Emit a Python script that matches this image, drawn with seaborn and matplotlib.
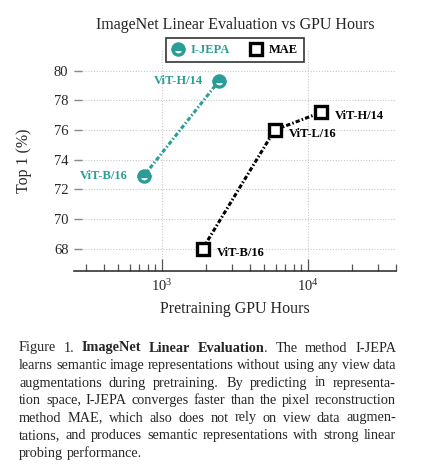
import numpy as np
import pandas as pd
import matplotlib
matplotlib.use("Agg")
import matplotlib.pyplot as plt
from matplotlib.lines import Line2D
import seaborn as sns

# values
ijepa_models = ["ViT-B/16", "ViT-H/14"]
ijepa_hours = [750, 2450]
ijepa_top1 = [72.9, 79.3]

mae_models = ["ViT-B/16", "ViT-L/16", "ViT-H/14"]
mae_hours = [1900, 5900, 12300]
mae_top1 = [68.0, 76.0, 77.2]

y_ticks = [68, 70, 72, 74, 76, 78, 80]

caption_lines = [
    [("Figure", "normal"), ("1.", "normal"), ("ImageNet", "bold"), ("Linear", "bold"),
     ("Evaluation", "bold", "."), ("The", "normal"), ("method", "normal"), ("I-JEPA", "normal")],
    "learns semantic image representations without using any view data",
    "augmentations during pretraining.  By predicting in representa-",
    "tion space, I-JEPA converges faster than the pixel reconstruction",
    "method MAE, which also does not rely on view data augmen-",
    "tations, and produces semantic representations with strong linear",
    "probing performance.",
]

TEAL = "#2a9d99"
W, H = 423, 475

sns.set_style("white")
plt.rcParams["font.family"] = ["Liberation Serif", "DejaVu Serif"]
plt.rcParams["mathtext.fontset"] = "custom"
plt.rcParams["mathtext.rm"] = "Liberation Serif"
plt.rcParams["mathtext.it"] = "Liberation Serif:italic"

fig = plt.figure(figsize=(W / 100, H / 100), dpi=100)
ax = fig.add_axes([74 / W, 1 - 271 / H, 322 / W, 221 / H])

ijepa = pd.DataFrame({"model": ijepa_models, "hours": ijepa_hours, "top1": ijepa_top1})
mae = pd.DataFrame({"model": mae_models, "hours": mae_hours, "top1": mae_top1})

dash = (0, (1.4, 0.7, 0.5, 0.7))
sns.lineplot(data=ijepa, x="hours", y="top1", ax=ax, sort=False, color=TEAL,
             lw=2.2, ls=dash, marker="o", markersize=8, mew=2.4, mec=TEAL,
             mfc=TEAL, fillstyle="top", markerfacecoloralt="white", zorder=4)
sns.lineplot(data=mae, x="hours", y="top1", ax=ax, sort=False, color="black",
             lw=2.2, ls=dash, marker="s", markersize=8.5, mew=2.4, mec="black",
             mfc="white", zorder=4)

for _, r in ijepa.iterrows():
    ax.annotate(r["model"], (r["hours"], r["top1"]), xytext=(-16, 0),
                textcoords="offset pixels", ha="right", va="center",
                fontsize=9, fontweight="bold", color=TEAL)
for _, r in mae.iterrows():
    ax.annotate(r["model"], (r["hours"], r["top1"]), xytext=(14, -4),
                textcoords="offset pixels", ha="left", va="center",
                fontsize=9, fontweight="bold", color="black")

ax.set_xscale("log")
ax.set_xlim(250, 40000)
ax.set_ylim(66.5, 81.4)
ax.set_yticks(y_ticks)
ax.set_xticks([1e3, 1e4])
ax.set_xticklabels([r"$10^3$", r"$10^4$"])

ax.grid(True, which="major", color="#c8c8c8", ls=(0, (1, 1.5)), lw=0.8)
ax.set_axisbelow(True)
for s in ["top", "right", "left"]:
    ax.spines[s].set_visible(False)
ax.spines["bottom"].set_color("#333333")
ax.spines["bottom"].set_linewidth(1.2)

ax.tick_params(axis="y", direction="in", length=6, width=1, color="#888888",
               labelsize=10.5, pad=4, left=True)
ax.tick_params(axis="x", which="major", direction="in", length=9, width=0.9,
               color="#555555", labelsize=10.5, pad=5, bottom=True)
ax.tick_params(axis="x", which="minor", direction="in", length=5, width=0.9,
               color="#555555", bottom=True)

ax.set_xlabel("Pretraining GPU Hours", fontsize=11.5, labelpad=5)
ax.set_ylabel("Top 1 (%)", fontsize=11.5)
ax.yaxis.set_label_coords(-0.13, 0.5)
ax.set_title("ImageNet Linear Evaluation vs GPU Hours", fontsize=11.5, pad=15)

handles = [
    Line2D([], [], ls="none", marker="o", markersize=8, mew=2.4, mec=TEAL,
           mfc=TEAL, fillstyle="top", markerfacecoloralt="white"),
    Line2D([], [], ls="none", marker="s", markersize=8.5, mew=2.4, mec="black", mfc="white"),
]
leg = ax.legend(handles, ["I-JEPA", "MAE"], loc="center", bbox_to_anchor=(0.5, 1.0),
                ncol=2, frameon=True, fancybox=False, edgecolor="black",
                handlelength=1.0, handletextpad=0.5, columnspacing=1.6,
                borderpad=0.45, prop={"weight": "bold", "size": 9})
leg.get_frame().set_linewidth(1.2)
leg.set_zorder(10)
for txt, c in zip(leg.get_texts(), [TEAL, "black"]):
    txt.set_color(c)

# caption, justified by hand
renderer = fig.canvas.get_renderer()
left, right = 19, 396
cap_size = 10.3
for i, line in enumerate(caption_lines):
    ypix = 348 + i * 17.5
    if isinstance(line, str):
        words = [(w, "normal") for w in line.split()]
    else:
        words = line
    pieces = []
    for w in words:
        segs = [(w[0], w[1])]
        if len(w) > 2:
            segs.append((w[2], "normal"))
        arts = []
        width = 0
        for s, wt in segs:
            t = fig.text(0, 0, s, fontsize=cap_size, fontweight=wt, ha="left",
                         va="center", family=["Liberation Serif"])
            bw = t.get_window_extent(renderer).width
            arts.append((t, width))
            width += bw
        pieces.append((arts, width))
    total = sum(p[1] for p in pieces)
    last = i == len(caption_lines) - 1
    gap = 3.4 if last else max(1.5, (right - left - total) / (len(pieces) - 1))
    x = left
    for arts, width in pieces:
        for t, off in arts:
            t.set_position(((x + off) / W, 1 - ypix / H))
        x += width + gap

fig.savefig("out.png", dpi=100)
